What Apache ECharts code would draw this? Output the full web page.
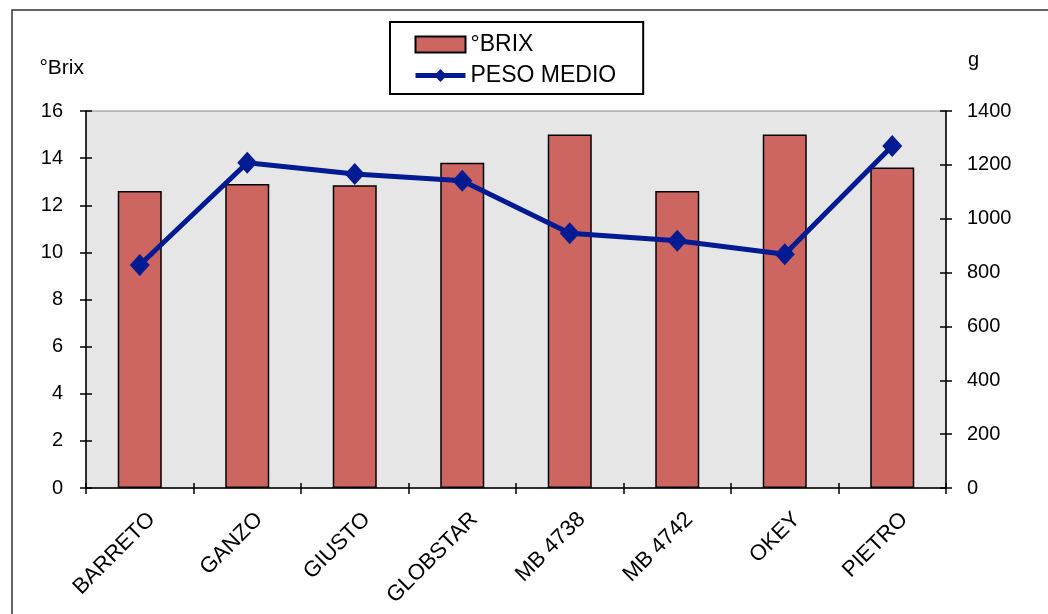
<!DOCTYPE html>
<html><head><meta charset="utf-8">
<script src="https://cdn.jsdelivr.net/npm/echarts@6/dist/echarts.min.js"></script>
<style>html,body{margin:0;padding:0;background:#fff}#c{width:1048px;height:614px}</style>
</head><body><div id="c"></div>
<script>
const categories = ['BARRETO','GANZO','GIUSTO','GLOBSTAR','MB 4738','MB 4742','OKEY','PIETRO'];
const brix = [12.6, 12.9, 12.85, 13.8, 15.0, 12.6, 15.0, 13.6];
const pesoMedio = [828, 1208, 1166, 1141, 946, 918, 868, 1270];
const leftTicks = [0, 16, 2];
const rightTicks = [0, 1400, 200];

const F = 'Liberation Sans, Arial, sans-serif';
const chart = echarts.init(document.getElementById('c'));
const tickStyle = {color: '#000', width: 1.5};
const axBase = {
  type: 'value', axisLine: {show: true, lineStyle: {color: '#000', width: 1.5}},
  splitLine: {show: false}
};
const gridPos = {left: 86, right: 102, top: 111, bottom: 126};
chart.setOption({
  animation: false,
  textStyle: {fontFamily: F},
  graphic: [{type: 'rect', shape: {x: 12, y: 10, width: 1100, height: 700},
    style: {fill: 'none', stroke: '#333', lineWidth: 1.5}, z: -10}],
  grid: [
    Object.assign({show: true, backgroundColor: '#e6e6e6', borderColor: '#888', borderWidth: 1}, gridPos),
    Object.assign({show: false}, gridPos)
  ],
  legend: {
    left: 390, top: 22, orient: 'vertical', itemGap: 8,
    padding: [11, 27, 7, 23], borderColor: '#000', borderWidth: 2,
    itemWidth: 50, itemHeight: 16,
    lineStyle: {width: 5},
    textStyle: {fontSize: 23, color: '#000', fontFamily: F},
    data: [
      {name: '°BRIX', icon: 'rect'},
      {name: 'PESO MEDIO'}
    ]
  },
  xAxis: [
    {
      type: 'category', data: categories, gridIndex: 0,
      axisLine: {lineStyle: {color: '#000', width: 1.5}},
      axisTick: {show: true, length: 6, lineStyle: tickStyle},
      axisLabel: {rotate: 45, fontSize: 22, color: '#000', margin: 16, verticalAlign: 'top',
        padding: [6, 0, 0, 0], fontFamily: F}
    },
    {
      type: 'category', data: categories, gridIndex: 1, z: 5,
      axisLine: {show: false},
      axisTick: {show: true, inside: true, length: 5, lineStyle: tickStyle},
      axisLabel: {show: false}
    }
  ],
  yAxis: [
    Object.assign({}, axBase, {
      gridIndex: 0, position: 'left', min: leftTicks[0], max: leftTicks[1], interval: leftTicks[2],
      name: '°Brix', nameLocation: 'end', nameGap: 32,
      nameTextStyle: {fontSize: 21, color: '#000', align: 'right', padding: [0, 2, 0, 0], fontFamily: F},
      axisTick: {show: true, length: 6, lineStyle: tickStyle},
      axisLabel: {fontSize: 20, color: '#000', margin: 23, fontFamily: F}
    }),
    Object.assign({}, axBase, {
      gridIndex: 0, position: 'right', min: rightTicks[0], max: rightTicks[1], interval: rightTicks[2],
      name: 'g', nameLocation: 'end', nameGap: 41,
      nameTextStyle: {fontSize: 20, color: '#000', align: 'left', padding: [0, 0, 0, 22], fontFamily: F},
      axisTick: {show: true, length: 6, lineStyle: tickStyle},
      axisLabel: {fontSize: 20, color: '#000', margin: 21, fontFamily: F, formatter: v => String(v)}
    }),
    {
      type: 'value', gridIndex: 1, position: 'left', min: leftTicks[0], max: leftTicks[1], interval: leftTicks[2], z: 5,
      splitLine: {show: false},
      axisLine: {show: false},
      axisTick: {show: true, inside: true, length: 6, lineStyle: tickStyle},
      axisLabel: {show: false}
    },
    {
      type: 'value', gridIndex: 1, position: 'right', min: rightTicks[0], max: rightTicks[1], interval: rightTicks[2], z: 5,
      splitLine: {show: false},
      axisLine: {show: false},
      axisTick: {show: true, inside: true, length: 6, lineStyle: tickStyle},
      axisLabel: {show: false}
    }
  ],
  series: [
    {name: '°BRIX', type: 'bar', data: brix, xAxisIndex: 0, yAxisIndex: 0, barWidth: 44,
      itemStyle: {color: '#cd6660', borderColor: '#000', borderWidth: 1.5}},
    {name: 'PESO MEDIO', type: 'line', data: pesoMedio, xAxisIndex: 0, yAxisIndex: 1,
      symbol: 'diamond', symbolSize: [20, 22],
      lineStyle: {color: '#021a92', width: 5},
      itemStyle: {color: '#021a92'}, z: 5},
    {name: 'ticksL', type: 'line', data: [], xAxisIndex: 1, yAxisIndex: 2, silent: true},
    {name: 'ticksR', type: 'line', data: [], xAxisIndex: 1, yAxisIndex: 3, silent: true}
  ]
});
</script></body></html>
